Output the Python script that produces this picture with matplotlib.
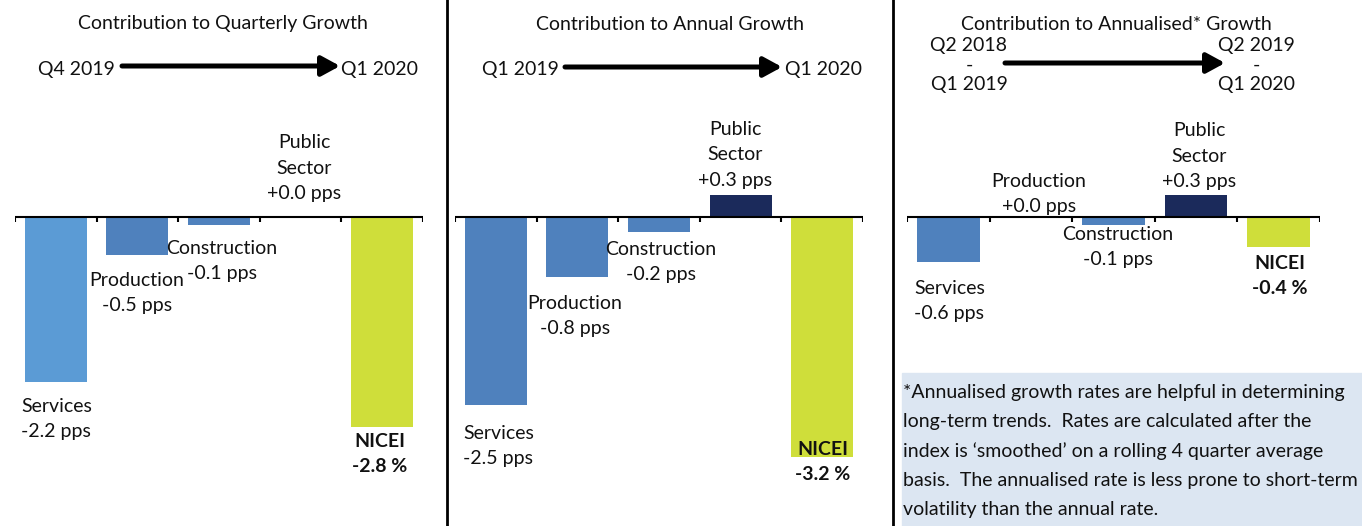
import matplotlib
matplotlib.use("Agg")
import matplotlib.pyplot as plt
from matplotlib.patches import FancyArrowPatch, Rectangle
import numpy as np

plt.rcParams['font.family'] = ['Lato', 'DejaVu Sans']

W, H = 1362, 526

# data
categories = ["Services", "Production", "Construction", "Public Sector", "NICEI"]
quarterly = [-2.2, -0.5, -0.1, 0.0, -2.8]
annual = [-2.5, -0.8, -0.2, 0.3, -3.2]
annualised = [-0.6, 0.0, -0.1, 0.3, -0.4]

titles = ["Contribution to Quarterly Growth",
          "Contribution to Annual Growth",
          "Contribution to Annualised* Growth"]
period_from = ["Q4 2019", "Q1 2019", "Q2 2018\n-\nQ1 2019"]
period_to = ["Q1 2020", "Q1 2020", "Q2 2019\n-\nQ1 2020"]

note = ("*Annualised growth rates are helpful in determining\n"
        "long-term trends.  Rates are calculated after the\n"
        "index is \u2018smoothed\u2019 on a rolling 4 quarter average\n"
        "basis.  The annualised rate is less prone to short-term\n"
        "volatility than the annual rate.")

LIGHT = "#5B9BD5"
MID = "#4F81BD"
NAVY = "#1B2A5B"
LIME = "#CFDE3A"

panel_colors = [
    [LIGHT, MID, MID, NAVY, LIME],
    [MID, MID, MID, NAVY, LIME],
    [MID, MID, MID, NAVY, LIME],
]

FS = 14
PX_PER_UNIT = 75.0
BASE_Y = 217  # baseline, pixels from top

fig = plt.figure(figsize=(W / 100, H / 100), dpi=100)

# overlay in pixel coordinates for text / arrows / dividers
ov = fig.add_axes([0, 0, 1, 1])
ov.set_xlim(0, W)
ov.set_ylim(H, 0)
ov.axis("off")
ov.set_zorder(5)
ov.patch.set_alpha(0)


def bar_panel(left, right, values, colors):
    ax = fig.add_axes([left / W, 0, (right - left) / W, 1])
    ax.set_zorder(1)
    ax.set_xlim(-0.5, len(values) - 0.5)
    ax.set_ylim(-(H - BASE_Y) / PX_PER_UNIT, BASE_Y / PX_PER_UNIT)
    x = np.arange(len(values))
    ax.bar(x, values, width=0.76, color=colors, zorder=2)
    ax.axhline(0, color="black", lw=1.5, zorder=3)
    tick = 5 / PX_PER_UNIT
    ax.vlines(np.arange(len(values) + 1) - 0.5, -tick, 0, color="black", lw=1.5, zorder=3)
    ax.axis("off")
    return ax


bar_panel(15, 423, quarterly, panel_colors[0])
bar_panel(455, 863, annual, panel_colors[1])
bar_panel(907, 1320, annualised, panel_colors[2])


def txt(x, y, s, ha="center", bold=False, ls=1.62):
    ov.text(x, y, s, ha=ha, va="center", fontsize=FS, linespacing=ls,
            fontweight="bold" if bold else "normal", color="#111111")


def arrow(x0, x1, y):
    ov.add_patch(FancyArrowPatch((x0, y), (x1, y), arrowstyle="-|>,head_length=11,head_width=6",
                                 mutation_scale=1, lw=3.6, color="black",
                                 shrinkA=0, shrinkB=0))


# dividers
ov.plot([447, 447], [0, H], color="black", lw=2)
ov.plot([893, 893], [0, H], color="black", lw=2)

# note box
ov.add_patch(Rectangle((902, 373), W - 902, H - 373, color="#DCE6F2", zorder=0))
txt(903, 451, note, ha="left", ls=1.83)

# panel 1
txt(223, 24, titles[0])
txt(115, 69, period_from[0], ha="right")
txt(341, 69, period_to[0], ha="left")
arrow(122, 340, 66)
txt(304, 168, "Public\nSector\n%+.1f pps" % quarterly[3])
txt(21, 419, "%s\n%.1f pps" % (categories[0], quarterly[0]), ha="left")
txt(137, 293, "%s\n%.1f pps" % (categories[1], quarterly[1]))
txt(222, 261, "%s\n%.1f pps" % (categories[2], quarterly[2]))
txt(380, 454, "%s\n%.1f %%" % (categories[4], quarterly[4]), bold=True)

# panel 2
txt(670, 24, titles[1])
txt(559, 69, period_from[1], ha="right")
txt(785, 69, period_to[1], ha="left")
arrow(565, 782, 67)
txt(735, 155, "Public\nSector\n%+.1f pps" % annual[3])
txt(463, 446, "%s\n%.1f pps" % (categories[0], annual[0]), ha="left")
txt(575, 316, "%s\n%.1f pps" % (categories[1], annual[1]))
txt(661, 262, "%s\n%.1f pps" % (categories[2], annual[2]))
txt(823, 462, "%s\n%.1f %%" % (categories[4], annual[4]), bold=True)

# panel 3
txt(1116, 24, titles[2])
txt(969, 65, period_from[2], ls=1.19)
txt(1256, 65, period_to[2], ls=1.19)
arrow(1005, 1225, 63)
txt(1199, 156, "Public\nSector\n%+.1f pps" % annualised[3])
txt(1039, 194, "%s\n%+.1f pps" % (categories[1], annualised[1]))
txt(914, 301, "%s\n%.1f pps" % (categories[0], annualised[0]), ha="left")
txt(1118, 247, "%s\n%.1f pps" % (categories[2], annualised[2]))
txt(1280, 276, "%s\n%.1f %%" % (categories[4], annualised[4]), bold=True)

fig.savefig("out.png", dpi=100, facecolor="white")
